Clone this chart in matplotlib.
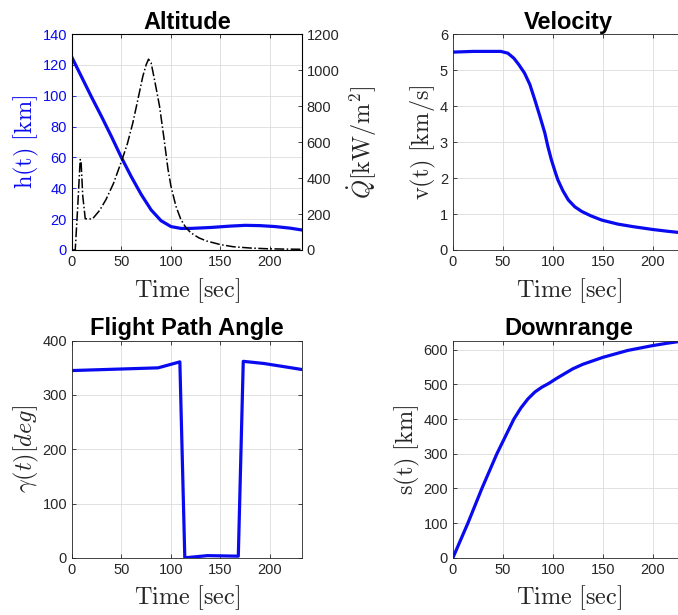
import numpy as np
import matplotlib.pyplot as plt

plt.rcParams['mathtext.fontset'] = 'cm'
plt.rcParams['font.family'] = ['Liberation Sans', 'DejaVu Sans']

# altitude h(t) [km]
t_h = [0, 10, 20, 30, 40, 50, 60, 70, 80, 90, 100, 110, 120, 140, 160, 175, 190, 205, 220, 232]
h = [125, 112, 99, 86.5, 73.5, 60, 47.5, 36, 26, 19, 15.2, 14, 14, 14.6, 15.5, 16, 15.8, 15.2, 14.2, 13]

# heat flux Qdot [kW/m^2]
t_q = [0, 3.4, 6, 8.4, 9.2, 11, 13.5, 17, 21, 28, 34.5, 42, 50.7, 56, 61.5, 66, 71.6, 75, 77.4, 80,
       84, 88.5, 93, 97, 100, 105, 110, 115, 120, 128, 136, 150, 163, 180, 197, 215, 232]
q = [0, 0, 250, 503, 500, 300, 174, 172, 174, 220, 281, 370, 503, 590, 706, 820, 965, 1030, 1061, 1040,
     930, 799, 620, 450, 355, 244, 170, 125, 96, 68, 50, 30, 18, 11, 7, 5, 4]

# velocity v(t) [km/s]
t_v = [0, 20, 48, 55, 61, 66, 71.6, 77, 82, 87, 92, 95, 98.6, 102, 105, 110, 115.5, 122, 129, 138, 149,
       165, 180, 200, 215, 232]
v = [5.5, 5.52, 5.52, 5.47, 5.33, 5.15, 4.92, 4.6, 4.17, 3.72, 3.25, 2.88, 2.5, 2.2, 1.95, 1.65, 1.39,
     1.2, 1.07, 0.95, 0.83, 0.72, 0.65, 0.57, 0.52, 0.47]

# flight path angle gamma(t) [deg]
t_g = [0, 87, 109, 114, 137, 168, 173, 194, 232]
g = [345, 350, 361, 0, 4, 3, 362, 358, 347]

# downrange s(t) [km]
t_s = [0, 15, 29, 44, 61, 68, 75, 82, 89, 96, 103, 110, 120, 130, 150, 175, 200, 215, 232]
s = [0, 100, 200, 300, 400, 432, 458, 478, 492, 503, 516, 528, 545, 558, 578, 598, 612, 619, 626]

blue = '#0a0af0'
tick_col = '#262626'
label_fs = 17.5
tick_fs = 10.5
title_fs = 17

fig = plt.figure(figsize=(6.78, 6.15), dpi=100)
ax1 = fig.add_axes([0.106, 0.5935, 0.339, 0.351])
ax2 = fig.add_axes([0.668, 0.5935, 0.342, 0.351])
ax3 = fig.add_axes([0.106, 0.093, 0.339, 0.353])
ax4 = fig.add_axes([0.668, 0.093, 0.342, 0.353])


def style(ax):
    ax.set_xlim(0, 232)
    ax.set_xticks([0, 50, 100, 150, 200])
    ax.grid(True, color='#dcdcdc', linewidth=0.6)
    ax.set_axisbelow(True)
    ax.tick_params(direction='in', length=3, labelsize=tick_fs, top=True, right=True,
                   width=0.6, colors=tick_col)
    for sp in ax.spines.values():
        sp.set_linewidth(0.6)
        sp.set_color(tick_col)
    ax.set_xlabel(r'$\mathrm{Time\ [sec]}$', fontsize=label_fs, labelpad=5, color=tick_col)


# Altitude
style(ax1)
ax1.tick_params(right=False)
ax1.plot(t_h, h, color=blue, lw=2.3)
ax1.set_ylim(0, 140)
ax1.set_yticks(range(0, 141, 20))
ax1.tick_params(axis='y', colors=blue)
ax1.spines['left'].set_color(blue)
ax1.set_ylabel(r'$\mathrm{h(t)\ [km]}$', fontsize=label_fs, color=blue, labelpad=1)
ax1.set_title('Altitude', fontsize=title_fs, fontweight='bold', pad=4)
ax1b = ax1.twinx()
ax1b.plot(t_q, q, color='black', lw=1.1, ls='-.')
ax1b.set_ylim(0, 1200)
ax1b.set_yticks(range(0, 1201, 200))
ax1b.tick_params(direction='in', length=3, labelsize=tick_fs, width=0.6, colors=tick_col)
ax1b.set_ylabel(r'$\dot{Q}\mathrm{[kW/m^2]}$', fontsize=label_fs, labelpad=4, color=tick_col)

# Velocity
style(ax2)
ax2.plot(t_v, v, color=blue, lw=2.3)
ax2.set_ylim(0, 6)
ax2.set_ylabel(r'$\mathrm{v(t)\ [km/s]}$', fontsize=label_fs, labelpad=1, color=tick_col)
ax2.set_title('Velocity', fontsize=title_fs, fontweight='bold', pad=4)

# Flight path angle
style(ax3)
ax3.plot(t_g, g, color=blue, lw=2.3)
ax3.set_ylim(0, 400)
ax3.set_yticks(range(0, 401, 100))
ax3.set_ylabel(r'$\gamma(t)[deg]$', fontsize=label_fs, labelpad=1, color=tick_col)
ax3.set_title('Flight Path Angle', fontsize=title_fs, fontweight='bold', pad=4)

# Downrange
style(ax4)
ax4.plot(t_s, s, color=blue, lw=2.3)
ax4.set_ylim(0, 626)
ax4.set_yticks(range(0, 601, 100))
ax4.set_ylabel(r'$\mathrm{s(t)\ [km]}$', fontsize=label_fs, labelpad=1, color=tick_col)
ax4.set_title('Downrange', fontsize=title_fs, fontweight='bold', pad=4)

fig.savefig('out.png', dpi=100)
